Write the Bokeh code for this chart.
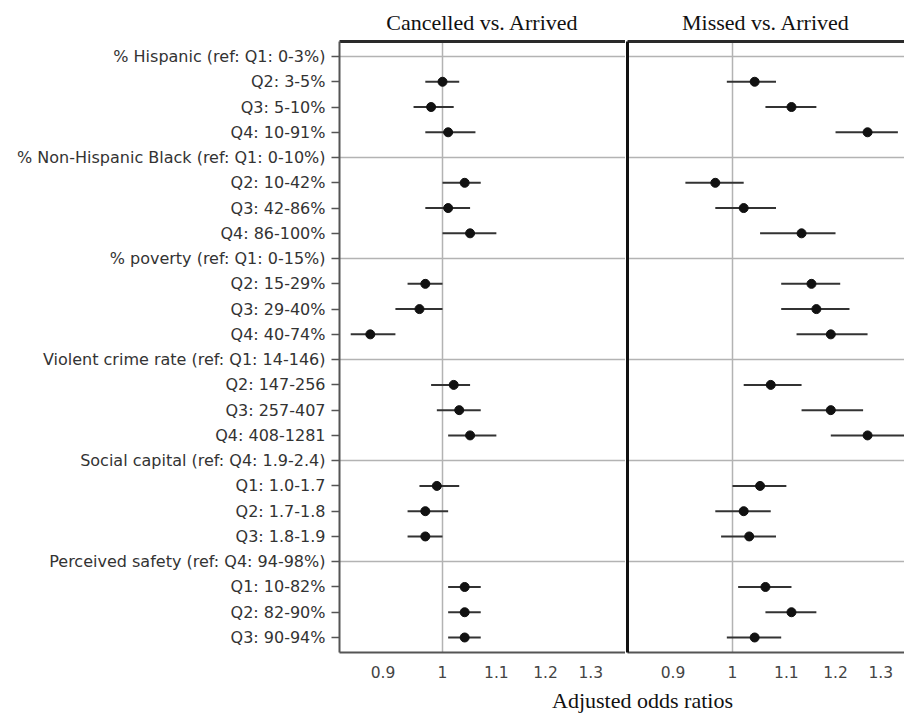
from bokeh.plotting import figure
from bokeh.models import (FactorRange, Range1d, FixedTicker, LinearAxis,
                          CustomJSTickFormatter, Label)
from bokeh.layouts import column, row
from bokeh.embed import file_html
from bokeh.resources import INLINE

# ---------------- data ----------------
row_labels = [
    "% Hispanic (ref: Q1: 0-3%)", "Q2: 3-5%", "Q3: 5-10%", "Q4: 10-91%",
    "% Non-Hispanic Black (ref: Q1: 0-10%)", "Q2: 10-42%", "Q3: 42-86%", "Q4: 86-100%",
    "% poverty (ref: Q1: 0-15%)", "Q2: 15-29%", "Q3: 29-40%", "Q4: 40-74%",
    "Violent crime rate (ref: Q1: 14-146)", "Q2: 147-256", "Q3: 257-407", "Q4: 408-1281",
    "Social capital (ref: Q4: 1.9-2.4)", "Q1: 1.0-1.7", "Q2: 1.7-1.8", "Q3: 1.8-1.9",
    "Perceived safety (ref: Q4: 94-98%)", "Q1: 10-82%", "Q2: 82-90%", "Q3: 90-94%",
]
header_labels = [
    "% Hispanic (ref: Q1: 0-3%)", "% Non-Hispanic Black (ref: Q1: 0-10%)",
    "% poverty (ref: Q1: 0-15%)", "Violent crime rate (ref: Q1: 14-146)",
    "Social capital (ref: Q4: 1.9-2.4)", "Perceived safety (ref: Q4: 94-98%)",
]
item_labels = [
    "Q2: 3-5%", "Q3: 5-10%", "Q4: 10-91%",
    "Q2: 10-42%", "Q3: 42-86%", "Q4: 86-100%",
    "Q2: 15-29%", "Q3: 29-40%", "Q4: 40-74%",
    "Q2: 147-256", "Q3: 257-407", "Q4: 408-1281",
    "Q1: 1.0-1.7", "Q2: 1.7-1.8", "Q3: 1.8-1.9",
    "Q1: 10-82%", "Q2: 82-90%", "Q3: 90-94%",
]
cancel_or = [1.00, 0.98, 1.01, 1.04, 1.01, 1.05, 0.97, 0.96, 0.88,
             1.02, 1.03, 1.05, 0.99, 0.97, 0.97, 1.04, 1.04, 1.04]
cancel_lo = [0.97, 0.95, 0.97, 1.00, 0.97, 1.00, 0.94, 0.92, 0.85,
             0.98, 0.99, 1.01, 0.96, 0.94, 0.94, 1.01, 1.01, 1.01]
cancel_hi = [1.03, 1.02, 1.06, 1.07, 1.05, 1.10, 1.00, 1.00, 0.92,
             1.05, 1.07, 1.10, 1.03, 1.01, 1.00, 1.07, 1.07, 1.07]
missed_or = [1.04, 1.11, 1.27, 0.97, 1.02, 1.13, 1.15, 1.16, 1.19,
             1.07, 1.19, 1.27, 1.05, 1.02, 1.03, 1.06, 1.11, 1.04]
missed_lo = [0.99, 1.06, 1.20, 0.92, 0.97, 1.05, 1.09, 1.09, 1.12,
             1.02, 1.13, 1.19, 1.00, 0.97, 0.98, 1.01, 1.06, 0.99]
missed_hi = [1.08, 1.16, 1.34, 1.02, 1.08, 1.20, 1.21, 1.23, 1.27,
             1.13, 1.26, 1.36, 1.10, 1.07, 1.08, 1.11, 1.16, 1.09]
x_ticks = [0.9, 1, 1.1, 1.2, 1.3]
panel_titles = ["Cancelled vs. Arrived", "Missed vs. Arrived"]
axis_title = "Adjusted odds ratios"

# ---------------- styling ----------------
SANS = "DejaVu Sans"
SERIF = "Liberation Serif"
GRID = "#b3b3b3"

yr = FactorRange(factors=row_labels[::-1], range_padding=0.094,
                 range_padding_units="absolute")


def make_panel(title, xr, orv, lo, hi, left_border, fw, with_labels):
    p = figure(x_axis_type="log", x_range=xr, y_range=yr,
               frame_width=fw, frame_height=611,
               min_border_left=left_border, min_border_right=0,
               min_border_top=41, min_border_bottom=32,
               output_backend="svg", toolbar_location=None,
               title=title, y_axis_location=("left" if with_labels else None))
    p.title.text_font = SERIF
    p.title.text_font_size = "22px"
    p.title.text_font_style = "normal"
    p.title.text_color = "#111111"
    p.title.align = "center"
    p.title.text_line_height = 0.85
    p.title.standoff = 14
    p.outline_line_color = None
    p.background_fill_color = "white"
    p.border_fill_color = "white"

    # grid
    p.ygrid.visible = False
    p.xgrid.ticker = FixedTicker(ticks=[1], minor_ticks=[])
    p.xgrid.grid_line_color = GRID
    p.xgrid.grid_line_width = 1.5

    # x axis
    xa = p.xaxis[0]
    xa.ticker = FixedTicker(ticks=x_ticks, minor_ticks=[])
    xa.formatter = CustomJSTickFormatter(code="return (Math.round(tick*10)/10).toString();")
    xa.major_tick_out = 0
    xa.major_tick_in = 0
    xa.minor_tick_out = 0
    xa.minor_tick_in = 0
    xa.major_label_standoff = 13
    xa.major_label_text_font = SANS
    xa.major_label_text_font_size = "15.5px"
    xa.major_label_text_color = "#444444"
    xa.axis_line_color = "#555555"
    xa.axis_line_width = 2

    # top border
    top = LinearAxis(ticker=FixedTicker(ticks=[], minor_ticks=[]),
                     major_tick_out=0, major_tick_in=0, minor_tick_out=0,
                     minor_tick_in=0, major_label_standoff=0,
                     axis_line_width=3, axis_line_color="#2a2a2a")
    p.add_layout(top, "above")

    if with_labels:
        ya = p.yaxis[0]
        ya.major_tick_out = 8
        ya.major_tick_in = 0
        ya.major_tick_line_color = "#555555"
        ya.major_tick_line_width = 1.5
        ya.major_label_standoff = 6
        ya.major_label_text_font = SANS
        ya.major_label_text_font_size = "16px"
        ya.major_label_text_color = "#333333"
        ya.axis_line_color = "#555555"
        ya.axis_line_width = 2
    else:
        div = LinearAxis(ticker=FixedTicker(ticks=[], minor_ticks=[]),
                         major_tick_out=0, major_tick_in=0, minor_tick_out=0,
                         minor_tick_in=0, major_label_standoff=0,
                         axis_line_width=3, axis_line_color="#111111")
        p.add_layout(div, "left")

    p.hspan(y=header_labels, line_color=GRID, line_width=1.5)
    p.segment(x0=lo, y0=item_labels, x1=hi, y1=item_labels,
              line_color="#333333", line_width=2)
    p.scatter(x=orv, y=item_labels, size=9, fill_color="#111111",
              line_color="#111111")
    return p


p1 = make_panel(panel_titles[0], Range1d(0.8333, 1.3825),
                cancel_or, cancel_lo, cancel_hi, 339, 286, True)
p2 = make_panel(panel_titles[1], Range1d(0.8304, 1.3558),
                missed_or, missed_lo, missed_hi, 2, 277, False)

p3 = figure(width=904, height=29, x_range=Range1d(0, 904), y_range=Range1d(0, 29),
            min_border=0, output_backend="svg", toolbar_location=None,
            x_axis_location=None, y_axis_location=None)
p3.grid.visible = False
p3.outline_line_color = None
p3.add_layout(Label(x=642, y=13, text=axis_title, text_align="center",
                    text_baseline="middle", text_font=SERIF,
                    text_font_size="22px", text_color="#111111"))

layout = column(row(p1, p2), p3)
open("out.html", "w").write(file_html(layout, INLINE))
